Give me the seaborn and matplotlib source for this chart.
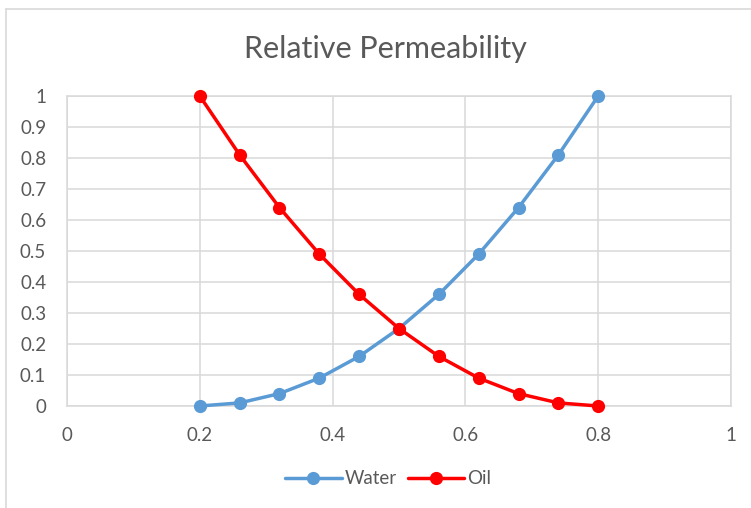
import matplotlib
matplotlib.use("Agg")
import matplotlib.pyplot as plt
import seaborn as sns
import pandas as pd
from matplotlib.lines import Line2D

saturation = [0.2, 0.26, 0.32, 0.38, 0.44, 0.5, 0.56, 0.62, 0.68, 0.74, 0.8]
water = [0, 0.01, 0.04, 0.09, 0.16, 0.25, 0.36, 0.49, 0.64, 0.81, 1.0]
oil = [1.0, 0.81, 0.64, 0.49, 0.36, 0.25, 0.16, 0.09, 0.04, 0.01, 0]
x_ticks = [0, 0.2, 0.4, 0.6, 0.8, 1.0]
x_labels = ["0", "0.2", "0.4", "0.6", "0.8", "1"]
y_ticks = [0, 0.1, 0.2, 0.3, 0.4, 0.5, 0.6, 0.7, 0.8, 0.9, 1.0]
y_labels = ["0", "0.1", "0.2", "0.3", "0.4", "0.5", "0.6", "0.7", "0.8", "0.9", "1"]

sns.set_style("white")
plt.rcParams['font.family'] = ['Lato', 'DejaVu Sans']

W, H = 751, 508
fig = plt.figure(figsize=(W / 100, H / 100), dpi=100)
ax = fig.add_axes([67 / W, 1 - 406 / H, (731 - 67) / W, (406 - 96) / H])

grid_c = "#d9d9d9"
text_c = "#595959"
blue = "#5b9bd5"
red = "#ff0000"

df = pd.DataFrame({"x": saturation * 2,
                   "y": water + oil,
                   "series": ["Water"] * len(water) + ["Oil"] * len(oil)})

sns.lineplot(data=df, x="x", y="y", hue="series", palette={"Water": blue, "Oil": red},
             marker="o", markersize=9.5, markeredgewidth=0, linewidth=2.5,
             ax=ax, legend=False, sort=False, zorder=3, clip_on=False)

ax.set_xlim(0, 1)
ax.set_ylim(0, 1)
ax.set_xticks(x_ticks)
ax.set_xticklabels(x_labels)
ax.set_yticks(y_ticks)
ax.set_yticklabels(y_labels)
ax.grid(True, color=grid_c, linewidth=1.1)
ax.set_axisbelow(True)
for s in ax.spines.values():
    s.set_color(grid_c)
    s.set_linewidth(1.1)
ax.tick_params(length=0, labelsize=13.5, labelcolor=text_c)
ax.tick_params(axis="x", pad=15)
ax.tick_params(axis="y", pad=15)
ax.set_xlabel("")
ax.set_ylabel("")

fig.text(385 / W, 1 - 49 / H, "Relative Permeability", ha="center", va="center",
         fontsize=22, color=text_c)

handles = [Line2D([], [], color=blue, marker="o", markersize=9.5, markeredgewidth=0, linewidth=2.5),
           Line2D([], [], color=red, marker="o", markersize=9.5, markeredgewidth=0, linewidth=2.5)]
fig.legend(handles, ["Water", "Oil"], loc="center", bbox_to_anchor=(388 / W, 1 - 479 / H),
           ncol=2, frameon=False, fontsize=13.5, labelcolor=text_c, handlelength=3,
           handletextpad=0.15, columnspacing=0.6)

# chart border (left and top visible)
fig.add_artist(Line2D([6.5 / W, 6.5 / W], [0, 1 - 9 / H], color=grid_c, linewidth=1.2,
                      transform=fig.transFigure))
fig.add_artist(Line2D([6.5 / W, 1], [1 - 9 / H, 1 - 9 / H], color=grid_c, linewidth=1.2,
                      transform=fig.transFigure))

fig.savefig("out.png", dpi=100)
